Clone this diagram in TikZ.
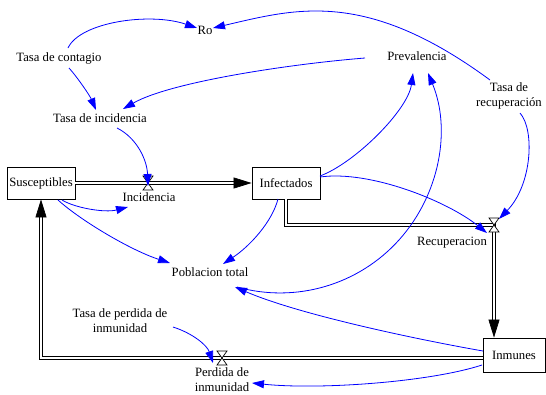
\documentclass[tikz,border=0pt]{standalone}
\usepackage{fontspec}
\setmainfont{Liberation Serif}
\usetikzlibrary{arrows.meta,calc}
\begin{document}
\begin{tikzpicture}[x=1pt,y=-1pt,
  every node/.style={font=\fontsize{12.7}{15}\selectfont},
  stock/.style={draw,line width=0.8pt,minimum height=32pt,inner sep=0pt},
  aux/.style={inner sep=1pt,align=center},
  link/.style={draw=blue,line width=0.8pt,-{Triangle[length=12pt,width=8pt]}},
  pipe/.style={draw=black,line width=0.7pt,double=white,double distance=1.8pt,-{Triangle[length=18pt,width=11pt]}},
  valvebox/.style={draw=black,fill=white,line width=0.7pt}
]
\useasboundingbox (0,0) rectangle (546,394);
% stocks
\node[stock,minimum width=68pt] (sus) at (41,183) {Susceptibles};
\node[stock,minimum width=68pt] (inf) at (286,183) {Infectados};
\node[stock,minimum width=62pt,minimum height=34pt] (inm) at (514,355) {Inmunes};
% auxiliaries
\node[aux] (ro) at (205,30) {Ro};
\node[aux] (tc) at (59,58) {Tasa de contagio};
\node[aux] (ti) at (100,118) {Tasa de incidencia};
\node[aux] (prev) at (417,56) {Prevalencia};
\node[aux] (trec) at (509,96) {Tasa de\\recuperación};
\node[aux] (inc) at (149,197) {Incidencia};
\node[aux] (pt) at (210,272) {Poblacion total};
\node[aux] (rec) at (452,243) {Recuperacion};
\node[aux] (tpi) at (120,321) {Tasa de perdida de\\inmunidad};
\node[aux] (pdi) at (222,380) {Perdida de\\inmunidad};
% valves
\coordinate (v1) at (148,183);
\coordinate (v2) at (494,225);
\coordinate (v3) at (222,358);
% flows
\draw[pipe] (sus.east) -- (inf.west);
\draw[pipe] (inf.south) |- (v2) -- (v2 |- inm.north);
\draw[pipe] ($(inm.west)+(0,3)$) -| (sus.south);
\foreach \v in {v1,v2,v3}{
  \draw[valvebox] ($(\v)+(-5,-7)$) -- ++(10,0) -- ++(-10,14) -- ++(10,0) -- cycle;
}
% links
\draw[link] ($(tc)+(9,-10)$) .. controls (80,22) and (150,12) .. ($(ro)+(-8,-2)$);
\draw[link] ($(trec)+(-19,-16)$) .. controls (365,-12) and (295,9) .. ($(ro)+(8,-2)$);
\draw[link] ($(tc)+(10,10)$) .. controls (78,78) and (90,96) .. ($(ti)+(-4,-8)$);
\draw[link] ($(prev)+(-52,2)$) .. controls (290,64) and (170,82) .. ($(ti)+(23,-9)$);
\draw[link] ($(ti)+(17,10)$) .. controls (137,138) and (147,160) .. ($(v1)+(0,3)$);
\draw[link] ($(inf)+(34,-7)$) .. controls (355,163) and (408,110) .. ($(prev)+(-4,17)$);
\draw[link] ($(pt)+(27,15)$) .. controls (295.8,303.5) and (358.9,285.0) .. (399.5,239.4)
   .. controls (440.1,193.8) and (451.2,129.1) .. ($(prev)+(11,17)$);
\draw[link] ($(inf)+(34,-6)$) .. controls (370,170) and (447,201) .. ($(v2)+(-7,8)$);
\draw[link] ($(trec)+(11,17)$) .. controls (535,130) and (532,185) .. ($(v2)+(5,-6)$);
\draw[link] ($(sus)+(21,17)$) .. controls (75,208) and (105,213) .. ($(inc)+(-21,10)$);
\draw[link] ($(sus)+(17,17)$) .. controls (80,220) and (130,250) .. ($(pt)+(-40,-9)$);
\draw[link] ($(inf)+(-8,16)$) .. controls (272,222) and (250,246) .. ($(pt)+(13,-8)$);
\draw[link] ($(tpi)+(53,6)$) .. controls (192,333) and (207,345) .. ($(v3)+(-9,5)$);
\draw[link] ($(inm)+(-32,10)$) .. controls (430,382) and (320,390) .. ($(pdi)+(30,3)$);
\draw[link] ($(inm)+(-31,-4)$) .. controls (420,340) and (300,315) .. ($(pt)+(25,15)$);
\end{tikzpicture}
\end{document}
